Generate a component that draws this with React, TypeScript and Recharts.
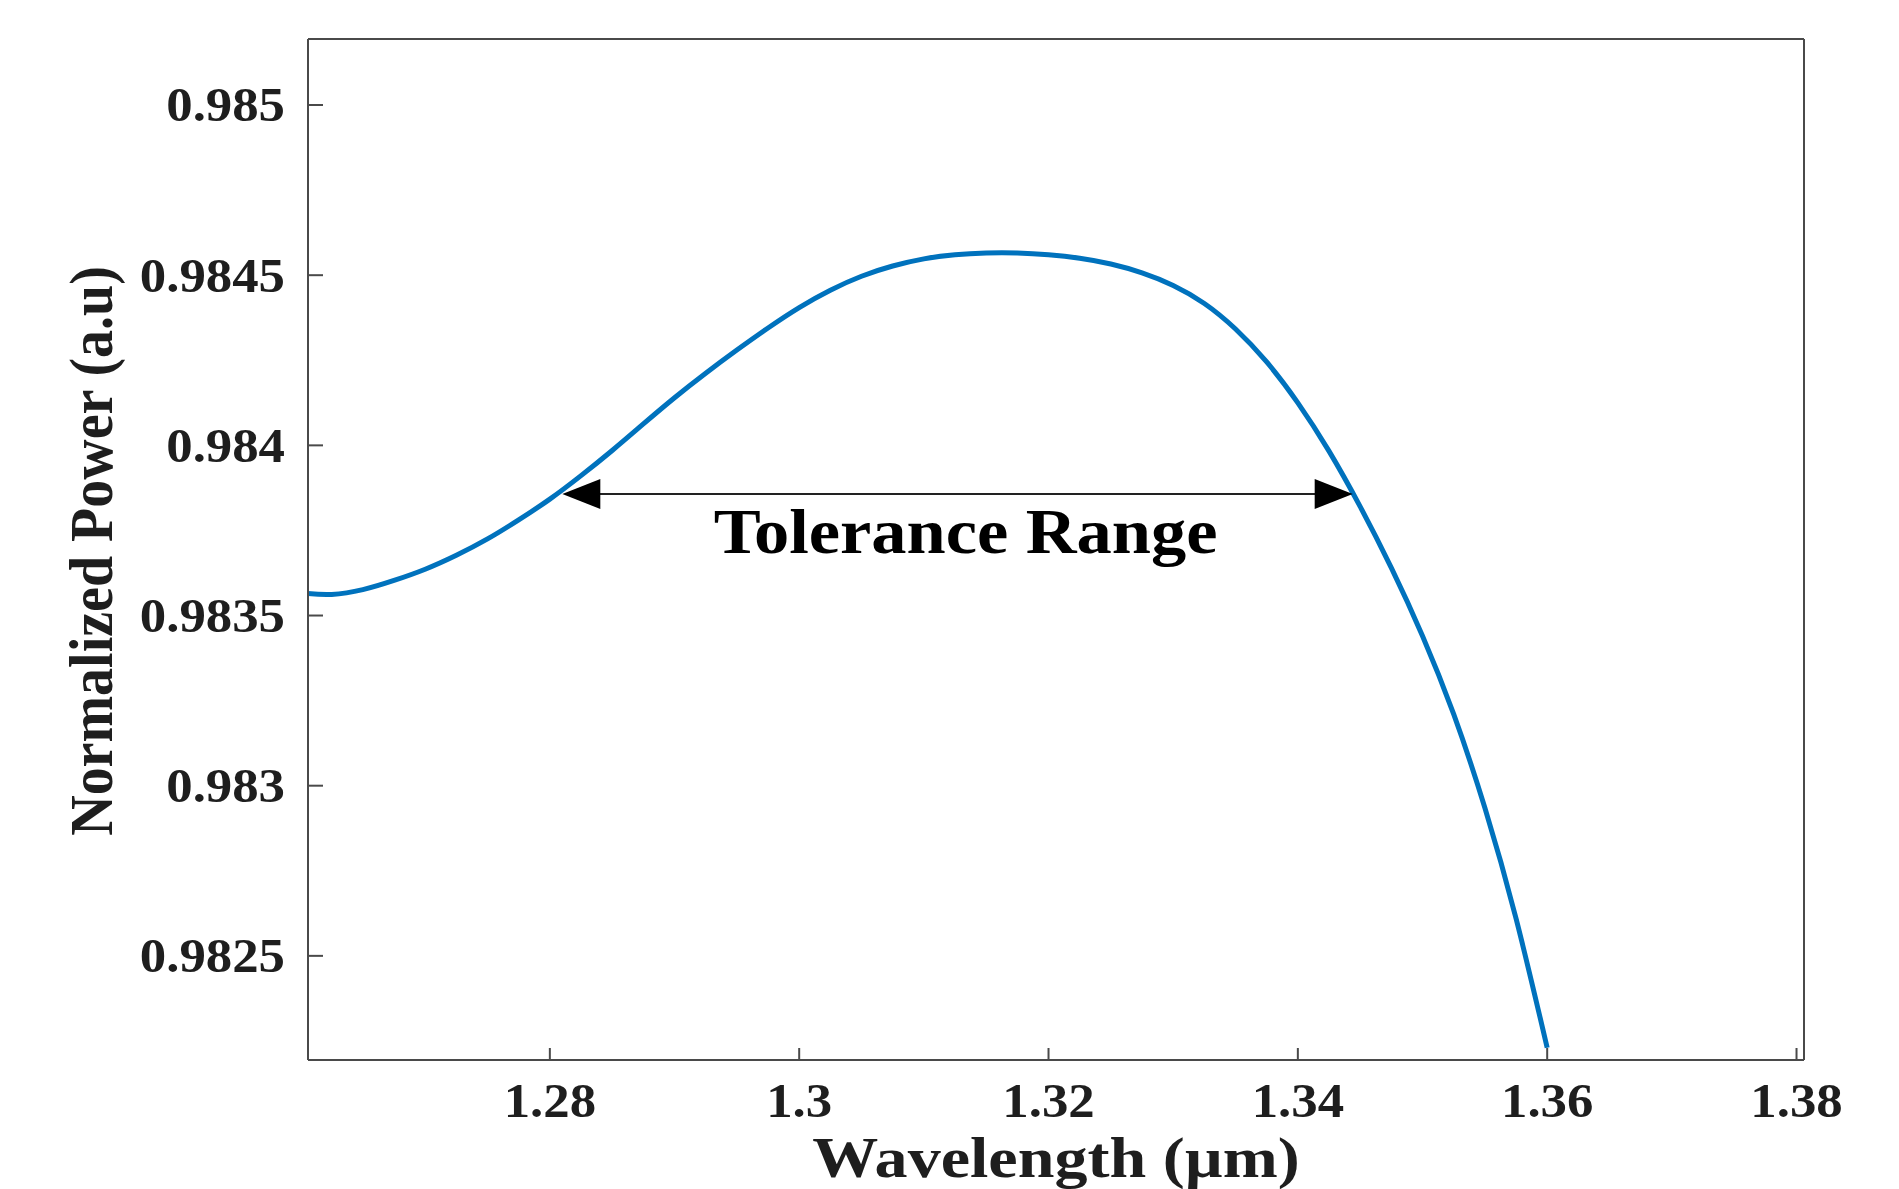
import React from 'react';
import { LineChart, Line, XAxis, YAxis, ReferenceLine } from 'recharts';

// Wavelength (µm) samples
const wavelengths = [
  1.2605, 1.2625, 1.265, 1.2675, 1.27, 1.2725, 1.275, 1.2775, 1.28, 1.2825,
  1.285, 1.2875, 1.29, 1.2925, 1.295, 1.2975, 1.3, 1.3025, 1.305, 1.3075,
  1.31, 1.3125, 1.315, 1.3175, 1.32, 1.3225, 1.325, 1.3275, 1.33, 1.3325,
  1.335, 1.3375, 1.34, 1.3425, 1.345, 1.3475, 1.35, 1.3525, 1.355, 1.3575, 1.36,
];

// Normalized power (a.u)
const power = [
  0.983565, 0.983562, 0.983576, 0.983603, 0.983636, 0.983677, 0.983725, 0.983781, 0.983842, 0.983911,
  0.983985, 0.984063, 0.98414, 0.984212, 0.98428, 0.984345, 0.984405, 0.984456, 0.984497, 0.984527,
  0.984548, 0.98456, 0.984565, 0.984565, 0.98456, 0.98455, 0.984533, 0.984507, 0.98447, 0.984417,
  0.984342, 0.984245, 0.984125, 0.983983, 0.98382, 0.98364, 0.98344, 0.98321, 0.982935, 0.98261, 0.98223,
];

const xTicks = [1.28, 1.3, 1.32, 1.34, 1.36, 1.38];
const yTicks = [0.9825, 0.983, 0.9835, 0.984, 0.9845, 0.985];
const xDomain = [1.2606, 1.3806];
const yDomain = [0.982194, 0.985194];

// Tolerance range annotation
const toleranceLevel = 0.983857;
const toleranceStart = 1.281;
const toleranceEnd = 1.3444;
const toleranceLabel = 'Tolerance Range';

const xTitle = 'Wavelength (µm)';
const yTitle = 'Normalized Power (a.u)';

const data = wavelengths.map((w, i) => ({ w, p: power[i] }));

const FONT = '"Liberation Serif", "Times New Roman", Times, serif';
const AXIS_COLOR = '#4a4a4a';
const TEXT_COLOR = '#1e1e1e';
const STRETCH = 1.1;

const XTick = (props: any) => {
  const { x, y, payload } = props;
  return (
    <g transform={`translate(${x},${y}) scale(${STRETCH},1)`}>
      <text x={0} y={0} dy="0.34em" textAnchor="middle" fontFamily={FONT} fontWeight="bold" fontSize={48} fill={TEXT_COLOR}>
        {String(payload.value)}
      </text>
    </g>
  );
};

const YTick = (props: any) => {
  const { x, y, payload } = props;
  return (
    <g transform={`translate(${x},${y}) scale(${STRETCH},1)`}>
      <text x={0} y={0} dy="0.34em" textAnchor="end" fontFamily={FONT} fontWeight="bold" fontSize={48} fill={TEXT_COLOR}>
        {String(payload.value)}
      </text>
    </g>
  );
};

const XTitle = () => (
  <g transform={`translate(1056,1177) scale(1.18,1)`}>
    <text x={0} y={0} textAnchor="middle" fontFamily={FONT} fontWeight="bold" fontSize={56} fill={TEXT_COLOR}>
      {xTitle}
    </text>
  </g>
);

const YTitle = () => (
  <g transform={`translate(112,551) scale(${STRETCH},1) rotate(-90)`}>
    <text x={0} y={0} textAnchor="middle" fontFamily={FONT} fontWeight="bold" fontSize={56} fill={TEXT_COLOR}>
      {yTitle}
    </text>
  </g>
);

const ToleranceArrow = (props: any) => {
  const { x1, y1, x2 } = props;
  const len = 38;
  const half = 15;
  const mid = (x1 + x2) / 2 + 8;
  return (
    <g>
      <line x1={x1 + len - 2} y1={y1} x2={x2 - len + 2} y2={y1} stroke="#222" strokeWidth={2} />
      <polygon points={`${x1},${y1} ${x1 + len},${y1 - half} ${x1 + len},${y1 + half}`} fill="#000" />
      <polygon points={`${x2},${y1} ${x2 - len},${y1 - half} ${x2 - len},${y1 + half}`} fill="#000" />
      <g transform={`translate(${mid},${y1 + 59}) scale(${STRETCH},1)`}>
        <text x={0} y={0} textAnchor="middle" fontFamily={FONT} fontWeight="bold" fontSize={64} fill="#000">
          {toleranceLabel}
        </text>
      </g>
    </g>
  );
};

const axisLine = { stroke: AXIS_COLOR, strokeWidth: 2 };
const tickLine = { stroke: AXIS_COLOR, strokeWidth: 2 };

export default function App() {
  return (
    <div style={{ position: 'absolute', left: 0, top: 0, width: 1899, height: 1189, background: '#fff' }}>
      <LineChart width={1899} height={1189} data={data} margin={{ top: 0, right: 0, bottom: 0, left: 0 }}>
        <XAxis
          xAxisId="bottom"
          dataKey="w"
          type="number"
          domain={xDomain}
          allowDataOverflow
          ticks={xTicks}
          interval={0}
          height={129}
          tickSize={-12}
          tickMargin={53}
          axisLine={axisLine}
          tickLine={tickLine}
          tick={<XTick />}
          label={XTitle}
        />
        <XAxis
          xAxisId="top"
          orientation="top"
          dataKey="w"
          type="number"
          domain={xDomain}
          allowDataOverflow
          ticks={xTicks}
          interval={0}
          height={39}
          tickSize={-12}
          axisLine={axisLine}
          tickLine={tickLine}
          tick={false}
        />
        <YAxis
          yAxisId="left"
          type="number"
          domain={yDomain}
          allowDataOverflow
          ticks={yTicks}
          interval={0}
          width={308}
          tickSize={-15}
          tickMargin={38}
          axisLine={axisLine}
          tickLine={tickLine}
          tick={<YTick />}
          label={YTitle}
        />
        <YAxis
          yAxisId="right"
          orientation="right"
          type="number"
          domain={yDomain}
          allowDataOverflow
          ticks={yTicks}
          interval={0}
          width={95}
          tickSize={-15}
          axisLine={axisLine}
          tickLine={tickLine}
          tick={false}
        />
        <Line
          xAxisId="bottom"
          yAxisId="left"
          type="natural"
          dataKey="p"
          stroke="#0072BD"
          strokeWidth={5}
          dot={false}
          activeDot={false}
          isAnimationActive={false}
        />
        <ReferenceLine
          xAxisId="bottom"
          yAxisId="left"
          segment={[
            { x: toleranceStart, y: toleranceLevel },
            { x: toleranceEnd, y: toleranceLevel },
          ]}
          shape={ToleranceArrow}
        />
      </LineChart>
    </div>
  );
}
